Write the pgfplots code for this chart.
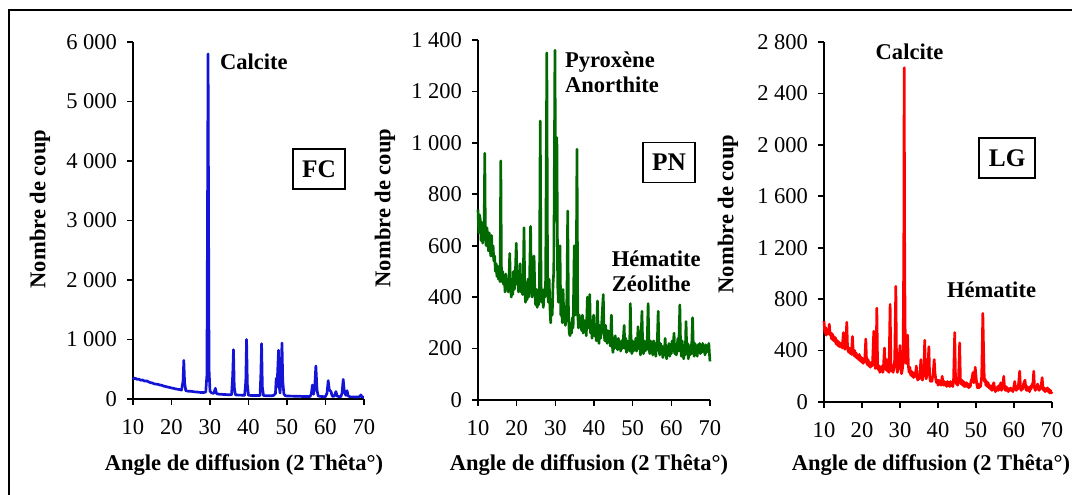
\documentclass[border=0pt]{standalone}
\usepackage{pgfplots}
\pgfplotsset{compat=1.18}
\usepackage{fontspec}
\setmainfont{Liberation Serif}
\definecolor{cblue}{RGB}{20,20,215}
\definecolor{cgreen}{RGB}{0,105,0}
\definecolor{cred}{RGB}{255,0,0}
\newcommand{\tfont}{\fontsize{16.9}{18}\selectfont}
\newcommand{\lfont}{\fontsize{16.9}{19}\selectfont\bfseries}
\pgfplotsset{
  xrdaxis/.style={
    scale only axis,
    axis lines=left,
    axis line style={-, line width=1.2pt, black},
    tick align=outside,
    major tick length=4.5pt,
    tick style={line width=1.2pt, black},
    xmin=10, xmax=70,
    xtick={10,20,30,40,50,60,70},
    xticklabels={10,20,30,40,50,60,70},
    tick label style={font=\tfont},
    xticklabel style={yshift=-7.5pt},
    yticklabel style={xshift=-4pt},
    clip=false,
  },
}
\begin{document}
\begin{tikzpicture}
\useasboundingbox (0,0) rectangle (804pt,371.25pt);
\draw[line width=1.2pt] (6.75pt,-10pt) rectangle (815pt,363.75pt);

% ---------------- FC ----------------
\begin{axis}[xrdaxis, at={(99.75pt,72pt)}, anchor=south west,
  width=173.25pt, height=267.75pt,
  ymin=0, ymax=6000,
  ytick={0,1000,2000,3000,4000,5000,6000},
  yticklabels={0,1~000,2~000,3~000,4~000,5~000,6~000}]
\addplot[cblue, line width=2pt, line join=round] coordinates {
(10,360) (10.3,340) (10.6,350) (11,330) (11.5,335) (12,315) (12.5,320) (13,300) (13.5,305) (14,290)
(14.5,275) (15,270) (15.5,255) (16,250) (16.5,245) (17,235) (17.5,230) (18,215) (18.5,210) (19,200)
(19.5,195) (20,185) (20.5,180) (21,170) (21.5,165) (22,160) (22.6,150) (23.0,300) (23.2,650) (23.4,280)
(23.7,140) (24,135) (24.5,130) (25,130) (25.5,125) (26,120) (26.5,118) (27,115) (27.5,110) (28,108)
(28.5,110) (28.9,120) (29.2,400) (29.5,5800) (29.75,500) (30,130) (30.5,100) (31,95) (31.4,180) (31.7,90)
(32,85) (32.5,80) (33,80) (33.5,75) (34,75) (34.5,72) (35,70) (35.6,70) (35.9,400) (36.1,830)
(36.3,200) (36.6,70) (37,68) (37.5,65) (38,65) (38.5,62) (39,62) (39.3,300) (39.5,1000) (39.7,250)
(40,62) (40.5,60) (41,60) (41.5,58) (42,58) (42.5,58) (43,60) (43.2,400) (43.4,930) (43.6,200)
(43.9,58) (44.5,55) (45,55) (45.5,55) (46,55) (46.5,60) (47,90) (47.2,350) (47.4,200) (47.6,500)
(47.8,820) (48,200) (48.2,100) (48.5,500) (48.7,940) (48.9,300) (49.2,80) (49.6,55) (50,50) (50.5,50)
(51,48) (51.5,48) (52,45) (52.5,45) (53,45) (53.5,45) (54,42) (54.5,42) (55,42) (55.5,42)
(56,42) (56.3,80) (56.6,235) (56.9,80) (57.2,200) (57.5,555) (57.8,150) (58.1,50) (58.5,45) (59,42)
(59.5,40) (60,40) (60.4,100) (60.7,310) (61,150) (61.4,130) (61.7,60) (62,40) (62.4,60) (62.7,125)
(63,50) (63.5,40) (64,40) (64.3,100) (64.6,330) (64.9,120) (65.3,60) (65.6,140) (65.9,50) (66.5,35)
(67,35) (67.5,33) (68,33) (68.5,35) (69,45) (69.2,70) (69.4,40) (69.7,30) (70,30)
};
\node[font=\lfont] at (axis cs:41.4,5664) {Calcite};
\node[draw, line width=1pt, font=\fontsize{19}{20}\selectfont\bfseries, minimum width=39pt, minimum height=30pt, inner sep=0pt] at (axis cs:58.3,3866) {FC};
\end{axis}

% ---------------- PN ----------------
\begin{axis}[xrdaxis, at={(358.5pt,71.25pt)}, anchor=south west,
  width=174pt, height=270pt,
  ymin=0, ymax=1400,
  ytick={0,200,400,600,800,1000,1200,1400},
  yticklabels={0,200,400,600,800,1~000,1~200,1~400}]
\addplot[cgreen, line width=2pt, line join=round] coordinates {
(10.0,740) (10.2,650) (10.4,720) (10.6,700) (10.8,620) (11.0,690) (11.2,610) (11.4,660) (11.6,700) (11.75,960)
(11.9,650) (12.1,600) (12.3,670) (12.5,640) (12.7,580) (12.9,650) (13.1,600) (13.3,560) (13.5,640) (13.7,560)
(13.9,600) (14.1,540) (14.3,560) (14.5,500) (14.7,530) (14.9,480) (15.1,520) (15.3,470) (15.5,500) (15.7,460)
(15.9,930) (16.05,520) (16.2,460) (16.4,500) (16.6,450) (16.8,480) (17.0,420) (17.2,490) (17.4,440) (17.6,470)
(17.8,420) (18.0,450) (18.2,570) (18.4,450) (18.6,400) (18.8,470) (19.0,410) (19.2,500) (19.4,430) (19.6,460)
(19.9,610) (20.1,450) (20.3,500) (20.5,420) (20.7,470) (20.9,530) (21.1,420) (21.3,480) (21.5,410) (21.7,460)
(21.9,670) (22.1,420) (22.3,380) (22.5,450) (22.7,390) (22.9,470) (23.1,400) (23.3,440) (23.6,675) (23.8,430)
(24.0,400) (24.2,470) (24.5,560) (24.7,420) (24.9,370) (25.1,430) (25.3,360) (25.5,400) (25.7,370) (25.9,450)
(26.1,1085) (26.3,450) (26.5,380) (26.7,420) (26.9,360) (27.1,430) (27.3,400) (27.5,470) (27.8,1350) (28.0,420)
(28.2,380) (28.4,470) (28.6,360) (28.8,300) (29.0,380) (29.2,330) (29.4,450) (29.6,500) (29.9,1360) (30.1,700)
(30.4,1020) (30.6,450) (30.8,380) (31.0,440) (31.2,600) (31.4,330) (31.6,370) (31.8,300) (32.0,430) (32.2,320)
(32.4,350) (32.6,290) (32.8,330) (33.0,400) (33.2,735) (33.4,330) (33.6,260) (33.8,250) (34.0,300) (34.2,260)
(34.4,320) (34.6,280) (34.9,600) (35.1,330) (35.4,450) (35.6,975) (35.8,330) (36.0,280) (36.2,330) (36.4,290)
(36.6,320) (36.8,270) (37.0,330) (37.2,260) (37.4,310) (37.6,270) (37.8,300) (38.0,250) (38.3,400) (38.5,280)
(38.7,330) (38.9,410) (39.1,260) (39.3,310) (39.5,240) (39.7,280) (39.9,330) (40.1,250) (40.3,290) (40.6,230)
(40.9,385) (41.1,250) (41.3,220) (41.5,290) (41.7,240) (41.9,270) (42.1,330) (42.4,410) (42.6,260) (42.8,230)
(43.0,290) (43.2,250) (43.4,220) (43.6,270) (43.8,240) (44.0,260) (44.2,210) (44.5,330) (44.7,220) (44.9,185)
(45.1,240) (45.3,200) (45.5,250) (45.7,210) (45.9,230) (46.1,195) (46.3,240) (46.5,205) (46.7,220) (46.9,190)
(47.1,230) (47.3,200) (47.5,215) (47.8,290) (48.0,200) (48.2,240) (48.4,185) (48.6,230) (48.8,200) (49.0,220)
(49.2,190) (49.4,375) (49.6,210) (49.8,180) (50.0,230) (50.2,190) (50.4,220) (50.6,200) (50.8,240) (51.0,190)
(51.2,220) (51.4,285) (51.6,200) (51.8,230) (52.0,175) (52.2,250) (52.4,345) (52.6,210) (52.8,180) (53.0,230)
(53.2,190) (53.4,220) (53.6,195) (53.8,250) (54.0,375) (54.2,220) (54.4,180) (54.6,230) (54.8,195) (55.0,210)
(55.2,175) (55.4,230) (55.6,190) (55.8,215) (56.0,170) (56.2,220) (56.4,240) (56.6,345) (56.8,200) (57.0,175)
(57.2,220) (57.4,185) (57.6,210) (57.8,165) (58.0,200) (58.2,180) (58.4,240) (58.6,175) (58.8,160) (59.0,210)
(59.2,180) (59.4,220) (59.6,170) (59.8,200) (60.0,180) (60.2,230) (60.4,190) (60.7,260) (60.9,180) (61.1,215)
(61.3,175) (61.5,210) (61.7,240) (61.9,190) (62.2,370) (62.4,210) (62.6,170) (62.8,230) (63.0,190) (63.2,160)
(63.4,210) (63.6,175) (63.8,305) (64.0,190) (64.2,220) (64.4,160) (64.6,200) (64.8,175) (65.0,215) (65.2,180)
(65.5,320) (65.7,200) (65.9,170) (66.1,220) (66.3,185) (66.5,200) (66.7,170) (66.9,215) (67.1,190) (67.3,220)
(67.5,180) (67.7,210) (67.9,185) (68.1,220) (68.3,190) (68.5,205) (68.7,175) (68.9,215) (69.1,185) (69.3,210)
(69.5,195) (69.7,220) (69.85,180) (70.0,150)
};
\node[font=\lfont, align=left, anchor=west] at (axis cs:31.3,1274) {Pyroxène\\Anorthite};
\node[font=\lfont, align=left, anchor=west] at (axis cs:43.4,500) {Hématite\\Zéolithe};
\node[draw, line width=1pt, font=\fontsize{19}{20}\selectfont\bfseries, minimum width=39pt, minimum height=30pt, inner sep=0pt] at (axis cs:59.4,924) {PN};
\end{axis}

% ---------------- LG ----------------
\begin{axis}[xrdaxis, at={(618pt,69.75pt)}, anchor=south west,
  width=171pt, height=270pt,
  ymin=0, ymax=2800,
  ytick={0,400,800,1200,1600,2000,2400,2800},
  yticklabels={0,400,800,1~200,1~600,2~000,2~400,2~800}]
\addplot[cred, line width=2pt, line join=round] coordinates {
(10.0,630) (10.2,540) (10.4,580) (10.6,520) (10.8,560) (11.0,530) (11.2,560) (11.4,605) (11.6,520) (11.8,540)
(12.0,490) (12.2,530) (12.4,480) (12.6,510) (12.8,470) (13.0,500) (13.2,450) (13.4,480) (13.6,440) (13.8,470)
(14.0,430) (14.2,460) (14.4,430) (14.6,450) (14.8,420) (15.1,540) (15.3,430) (15.5,410) (15.7,450) (16.0,620)
(16.2,420) (16.4,390) (16.6,420) (16.8,380) (17.0,410) (17.2,370) (17.5,510) (17.7,380) (17.9,360) (18.1,400)
(18.3,350) (18.5,380) (18.7,340) (18.9,360) (19.1,330) (19.3,370) (19.5,320) (19.7,350) (19.9,310) (20.1,340)
(20.3,300) (20.5,330) (20.7,310) (21.0,490) (21.2,320) (21.4,290) (21.6,330) (21.8,280) (22.0,310) (22.2,270)
(22.4,300) (22.6,280) (22.8,320) (23.1,550) (23.3,320) (23.5,260) (23.7,300) (23.9,730) (24.1,300) (24.3,250)
(24.5,280) (24.7,230) (24.9,270) (25.1,240) (25.3,280) (25.5,230) (25.7,300) (25.9,420) (26.1,300) (26.3,250)
(26.5,330) (26.7,240) (26.9,270) (27.1,230) (27.4,760) (27.6,300) (27.8,240) (28.0,280) (28.2,230) (28.4,270)
(28.6,330) (28.9,900) (29.1,280) (29.3,230) (29.5,260) (29.7,300) (30.0,440) (30.2,270) (30.4,220) (30.6,250)
(30.8,300) (31.0,1200) (31.1,2600) (31.25,1000) (31.4,400) (31.6,300) (32.0,520) (32.2,280) (32.4,230) (32.6,270)
(32.8,210) (33.0,240) (33.2,200) (33.4,230) (33.6,190) (33.8,220) (34.0,200) (34.3,280) (34.5,190) (34.7,170)
(34.9,210) (35.1,180) (35.3,250) (35.5,330) (35.7,200) (35.9,170) (36.1,210) (36.3,250) (36.5,480) (36.7,250)
(36.9,180) (37.1,220) (37.3,250) (37.6,430) (37.8,200) (38.0,160) (38.2,190) (38.4,160) (38.6,200) (38.8,250)
(39.0,330) (39.2,230) (39.4,180) (39.6,150) (39.8,170) (40.0,130) (40.2,170) (40.4,140) (40.6,160) (40.8,130)
(41.1,200) (41.3,150) (41.5,130) (41.7,160) (41.9,130) (42.1,150) (42.3,120) (42.5,160) (42.7,130) (42.9,150)
(43.1,120) (43.3,160) (43.5,130) (43.7,150) (43.9,120) (44.1,180) (44.4,540) (44.6,200) (44.8,140) (45.0,160)
(45.2,130) (45.4,180) (45.7,460) (45.9,170) (46.1,140) (46.3,170) (46.5,130) (46.7,160) (46.9,120) (47.1,150)
(47.3,120) (47.5,150) (47.7,120) (47.9,140) (48.1,110) (48.3,140) (48.5,120) (48.7,160) (49.0,190) (49.2,230)
(49.4,150) (49.6,170) (49.8,270) (50.0,200) (50.2,140) (50.4,110) (50.6,140) (50.8,110) (51.0,130) (51.2,120)
(51.5,200) (51.8,690) (52.0,400) (52.2,160) (52.4,180) (52.6,130) (52.8,160) (53.0,120) (53.2,150) (53.4,110)
(53.6,130) (53.8,100) (54.0,120) (54.2,90) (54.4,130) (54.7,150) (54.9,100) (55.1,80) (55.3,110) (55.5,90)
(55.7,120) (55.9,90) (56.1,130) (56.3,100) (56.5,150) (56.7,90) (56.9,120) (57.1,140) (57.3,200) (57.5,110)
(57.7,90) (57.9,120) (58.1,90) (58.3,110) (58.5,80) (58.7,100) (58.9,90) (59.1,110) (59.3,90) (59.5,100)
(59.7,80) (59.9,110) (60.2,160) (60.4,100) (60.6,90) (60.8,120) (61.0,100) (61.2,140) (61.5,240) (61.7,110)
(61.9,90) (62.1,120) (62.3,100) (62.5,140) (62.9,170) (63.1,110) (63.3,90) (63.5,120) (63.7,90) (63.9,110)
(64.1,80) (64.3,120) (64.5,100) (64.7,130) (65.0,150) (65.2,240) (65.4,110) (65.6,90) (65.8,120) (66.0,100)
(66.2,140) (66.4,110) (66.6,90) (66.8,120) (67.0,100) (67.2,140) (67.4,190) (67.6,120) (67.8,90) (68.0,110)
(68.2,80) (68.4,100) (68.6,90) (68.8,110) (69.0,80) (69.2,100) (69.4,70) (69.6,90) (69.8,70) (70.0,80)
};
\node[font=\lfont] at (axis cs:32.5,2722) {Calcite};
\node[font=\lfont] at (axis cs:54.1,871) {Hématite};
\node[draw, line width=1pt, font=\fontsize{19}{20}\selectfont\bfseries, minimum width=42pt, minimum height=30pt, inner sep=0pt] at (axis cs:58.2,1898) {LG};
\end{axis}

% axis titles
\node[font=\lfont, rotate=90] at (30pt,214.5pt) {Nombre de coup};
\node[font=\lfont, rotate=90] at (288.75pt,215.25pt) {Nombre de coup};
\node[font=\lfont, rotate=90] at (546pt,210.75pt) {Nombre de coup};
\node[font=\lfont] at (183pt,22.5pt) {Angle de diffusion (2 Thêta°)};
\node[font=\lfont] at (441.75pt,22.5pt) {Angle de diffusion (2 Thêta°)};
\node[font=\lfont] at (698.25pt,22.5pt) {Angle de diffusion (2 Thêta°)};
\end{tikzpicture}
\end{document}
